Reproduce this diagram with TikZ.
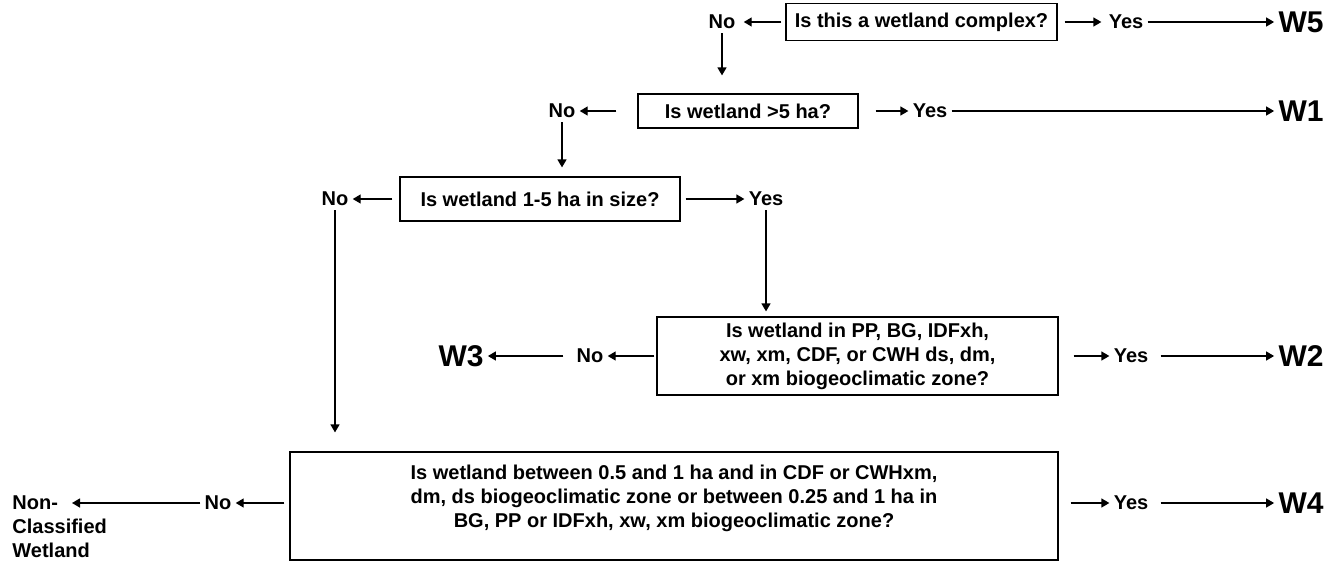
\documentclass[tikz,border=0pt]{standalone}
\usepackage{fontspec}
\setmainfont{Liberation Sans}
\usetikzlibrary{arrows.meta}

\begin{document}
\begin{tikzpicture}[x=0.5pt,y=-0.5pt,
  question/.style={draw,line width=0.6pt,align=center,inner sep=0pt,
                   font=\bfseries\fontsize{10}{12}\selectfont},
  answer/.style={font=\bfseries\fontsize{10}{12}\selectfont,inner sep=2pt},
  wclass/.style={font=\bfseries\fontsize{15}{17}\selectfont,inner sep=2pt},
  flow/.style={-{Triangle[length=4pt,width=4.5pt]},line width=0.7pt}
]
\useasboundingbox (0,0) rectangle (1338,562);

% questions
\node[question,minimum width=135.5pt,minimum height=18.5pt] (q1) at (921.5,22) {Is this a wetland complex?};
\node[question,minimum width=110pt,minimum height=17pt] (q2) at (748,111) {Is wetland >5 ha?};
\node[question,minimum width=140pt,minimum height=22pt] (q3) at (540,199) {Is wetland 1-5 ha in size?};
\node[question,minimum width=200.5pt,minimum height=39pt] (q4) at (857.5,356)
  {Is wetland in PP, BG, IDFxh,\\xw, xm, CDF, or CWH ds, dm,\\or xm biogeoclimatic zone?};
\node[question,minimum width=384pt,minimum height=54pt] (q5) at (674,506) {};
\node[answer,align=center] (q5text) at ([yshift=4pt]q5.center)
  {Is wetland between 0.5 and 1 ha and in CDF or CWHxm,\\dm, ds biogeoclimatic zone or between 0.25 and 1 ha in\\BG, PP or IDFxh, xw, xm biogeoclimatic zone?};

% answers and classes
\node[answer] (no1) at (722,22) {No};
\node[answer] (yes1) at (1126,22) {Yes};
\node[wclass] (w5) at (1301,22) {W5};

\node[answer] (no2) at (562,111) {No};
\node[answer] (yes2) at (930,111) {Yes};
\node[wclass] (w1) at (1301,111) {W1};

\node[answer] (no3) at (335,199) {No};
\node[answer] (yes3) at (766,199) {Yes};

\node[answer] (no4) at (590,356) {No};
\node[wclass] (w3) at (461,356) {W3};
\node[answer] (yes4) at (1131,356) {Yes};
\node[wclass] (w2) at (1301,356) {W2};

\node[answer] (no5) at (218,503) {No};
\node[answer] (yes5) at (1131,503) {Yes};
\node[wclass] (w4) at (1301,503) {W4};
\node[answer,align=left,anchor=north west] (ncw) at (8,491) {Non-\\Classified\\Wetland};

% row 1
\draw[flow,shorten <=2pt,shorten >=2pt] (q1) -- (no1);
\draw[flow,shorten <=3.5pt,shorten >=1.5pt] (q1) -- (yes1);
\draw[flow] (yes1) -- (w5);
\draw[flow,shorten >=9pt] (no1) -- (no1 |- q2.north);

% row 2
\draw[flow,shorten <=10.5pt] (q2) -- (no2);
\draw[flow,shorten <=8.5pt] (q2) -- (yes2);
\draw[flow] (yes2) -- (w1);
\draw[flow,shorten >=4.5pt] (no2) -- (no2 |- q3.north);

% row 3
\draw[flow,shorten <=3.5pt] (q3) -- (no3);
\draw[flow,shorten <=2.5pt] (q3) -- (yes3);
\draw[flow,shorten >=2.5pt] (yes3) -- (yes3 |- q4.north);
\draw[flow,shorten >=9.5pt] (no3) -- (no3 |- q5.north);

% row 4
\draw[flow,shorten <=1pt] (q4) -- (no4);
\draw[flow,shorten <=4.5pt] (no4) -- (w3);
\draw[flow,shorten <=7.5pt] (q4) -- (yes4);
\draw[flow,shorten <=4pt] (yes4) -- (w2);

% row 5
\draw[flow,shorten <=2.5pt] (q5.west |- no5) -- (no5);
\draw[flow,shorten >=32pt] (no5) -- (no5 -| ncw.west);
\draw[flow,shorten <=6pt] (q5.east |- yes5) -- (yes5);
\draw[flow,shorten <=4pt] (yes5) -- (w4);
\end{tikzpicture}
\end{document}
